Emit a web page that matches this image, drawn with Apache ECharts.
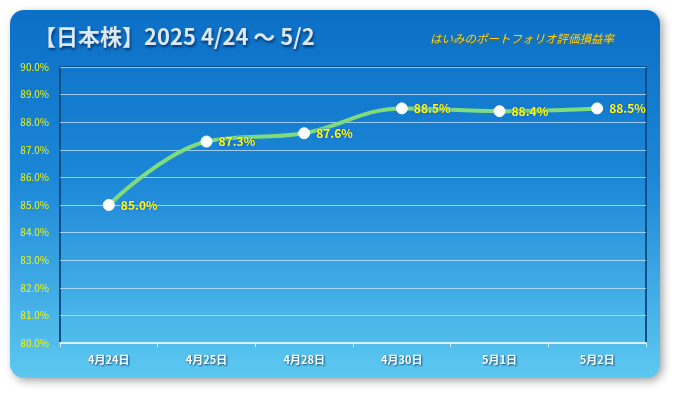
<!DOCTYPE html>
<html><head><meta charset="utf-8">
<script src="https://cdn.jsdelivr.net/npm/echarts@6/dist/echarts.min.js"></script>
<style>html,body{margin:0;padding:0;background:#fff;}#c{width:675px;height:393px;}</style>
</head><body><div id="c"></div>
<script>
const categories = ['4月24日','4月25日','4月28日','4月30日','5月1日','5月2日'];
const values = [85.0, 87.3, 87.6, 88.5, 88.4, 88.5];
const yMin = 80, yMax = 90, yStep = 1;
const titleText = '【日本株】2025 4/24 〜 5/2';
const subtitleText = 'はいみのポートフォリオ評価損益率';

const chart = echarts.init(document.getElementById('c'), null, {renderer:'canvas'});
const font = '"Noto Sans CJK JP", "Noto Sans", sans-serif';
chart.setOption({
  animation:false,
  graphic:[
    {type:'rect', z:-10, shape:{x:10,y:10,width:650,height:368,r:14},
     style:{fill:new echarts.graphic.LinearGradient(0,0,0,1,[{offset:0,color:'#0b6fc6'},{offset:0.45,color:'#1b86d6'},{offset:1,color:'#5dc9f1'}]),
       shadowBlur:8, shadowColor:'rgba(0,0,0,0.35)', shadowOffsetX:3, shadowOffsetY:3}},
    {type:'text', left:34, top:26, z:10,
     style:{text:titleText, font:'bold 22px '+font, fill:'#dce9f5', textShadowColor:'rgba(0,30,80,0.8)', textShadowBlur:3, textShadowOffsetX:1, textShadowOffsetY:2}},
    {type:'text', left:430, top:33, z:10,
     style:{text:subtitleText, font:'italic 11.5px '+font, fill:'#ffd21e', textShadowColor:'rgba(120,90,0,0.6)', textShadowBlur:2, textShadowOffsetY:2}}
  ],
  grid:{left:60, right:29, top:67, bottom:50, show:true, borderColor:'#0b4d86', borderWidth:2, backgroundColor:'transparent'},
  xAxis:{type:'category', data:categories, boundaryGap:true,
    axisLine:{lineStyle:{color:'#d8f0ff', width:2}},
    axisTick:{show:true, length:4, lineStyle:{color:'#d8f0ff'}},
    axisLabel:{color:'#ffffff', fontWeight:'bold', fontSize:11, fontFamily:font, margin:11,
      textShadowColor:'rgba(0,40,90,0.8)', textShadowBlur:2, textShadowOffsetX:1, textShadowOffsetY:1}},
  yAxis:{type:'value', min:yMin, max:yMax, interval:yStep,
    axisLine:{show:false}, axisTick:{show:false},
    splitLine:{lineStyle:{color:'rgba(200,230,255,0.75)', width:1}},
    axisLabel:{color:'#f5f500', fontSize:10, fontFamily:font, margin:11, formatter:v=>v.toFixed(1)+'%'}},
  series:[{type:'line', data:values, smooth:0.4, symbol:'circle', symbolSize:11,
    lineStyle:{color:'#7fdc7c', width:4},
    itemStyle:{color:'#ffffff', borderColor:'#ffffff'},
    label:{show:true, position:'right', distance:6, color:'#ffff00', fontWeight:'bold', fontSize:12, fontFamily:font,
      formatter:p=>p.value.toFixed(1)+'%', textShadowColor:'#1848d0', textShadowBlur:3}
  }]
});
</script></body></html>
